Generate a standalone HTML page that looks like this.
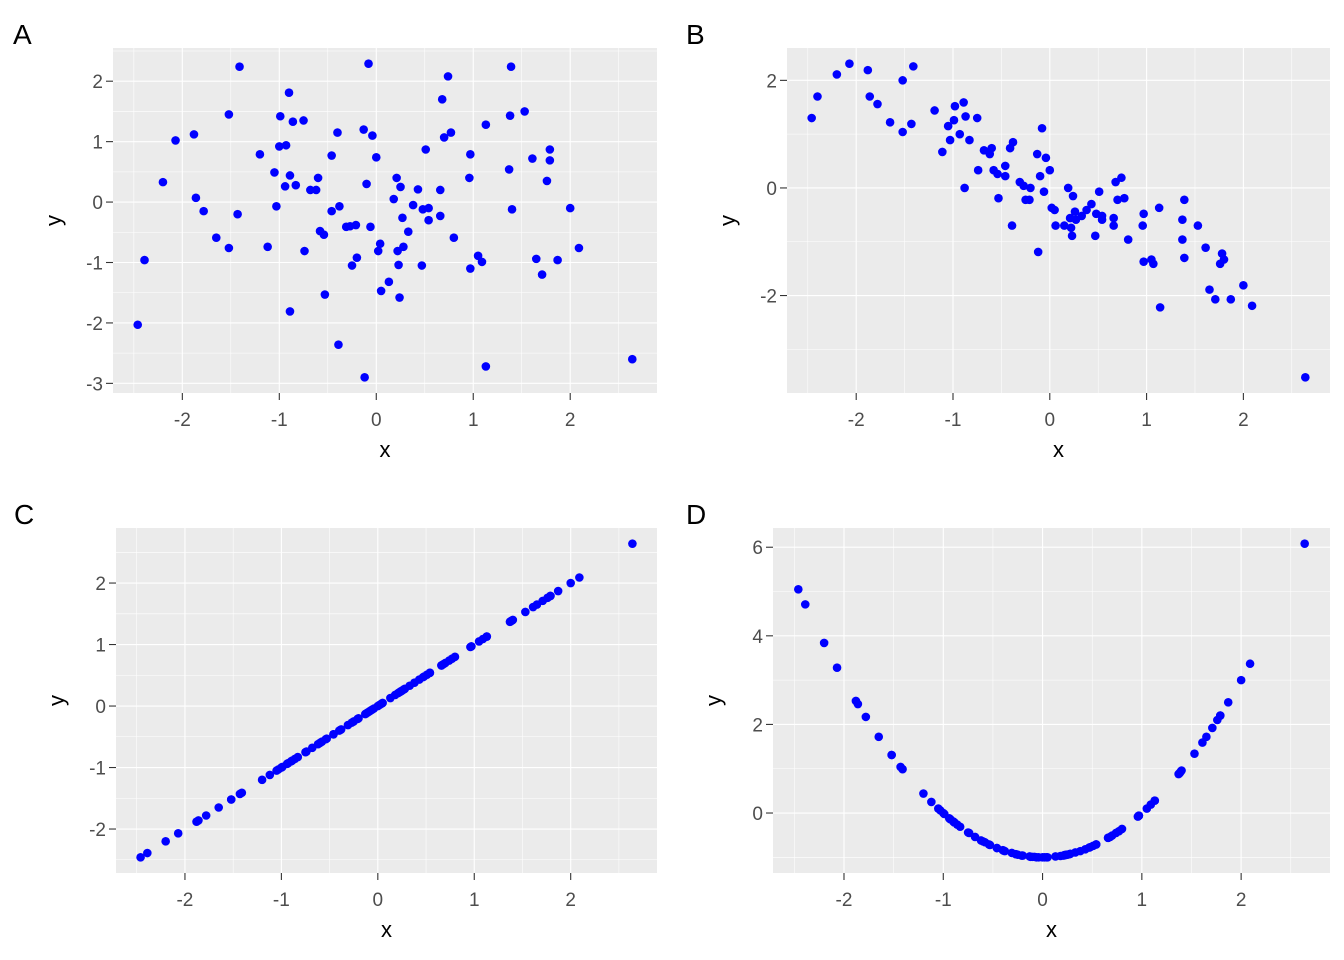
<!DOCTYPE html>
<html><head><meta charset="utf-8"><style>
body{margin:0;background:#fff;}
svg{display:block;font-family:"Liberation Sans",Arial,sans-serif;}
</style></head><body>
<svg id="chart" width="1344" height="960" viewBox="0 0 1344 960" xmlns="http://www.w3.org/2000/svg"></svg>
<script>
const xVals=[-2.46,-2.39,-2.20,-2.07,-1.88,-1.86,-1.78,-1.65,-1.52,-1.52,-1.43,-1.41,-1.20,-1.12,-1.05,-1.03,-0.99,-1.00,-0.94,-0.93,-0.90,-0.89,-0.89,-0.86,-0.83,-0.75,-0.74,-0.68,-0.62,-0.60,-0.58,-0.54,-0.53,-0.46,-0.46,-0.40,-0.39,-0.38,-0.31,-0.27,-0.25,-0.21,-0.20,-0.13,-0.12,-0.10,-0.08,-0.06,-0.04,0,0.02,0.04,0.05,0.13,0.18,0.21,0.22,0.23,0.24,0.25,0.27,0.28,0.33,0.38,0.43,0.47,0.48,0.51,0.54,0.54,0.66,0.66,0.68,0.70,0.74,0.77,0.80,0.96,0.97,0.97,1.05,1.09,1.13,1.13,1.37,1.38,1.39,1.40,1.53,1.61,1.65,1.71,1.76,1.79,1.79,1.87,2.00,2.09,2.64];
const yA=[-2.03,-0.96,0.33,1.02,1.12,0.07,-0.15,-0.59,1.45,-0.76,-0.20,2.24,0.79,-0.74,0.49,-0.07,1.42,0.92,0.26,0.94,1.81,0.44,-1.81,1.33,0.28,1.35,-0.81,0.20,0.20,0.40,-0.48,-0.54,-1.53,0.77,-0.15,1.15,-2.36,-0.07,-0.41,-0.40,-1.05,-0.38,-0.92,1.20,-2.90,0.30,2.29,-0.41,1.10,0.74,-0.81,-0.69,-1.47,-1.32,0.05,0.40,-0.81,-1.04,-1.58,0.25,-0.26,-0.74,-0.49,-0.05,0.21,-1.05,-0.12,0.87,-0.30,-0.10,0.20,-0.23,1.70,1.07,2.08,1.15,-0.59,0.40,0.79,-1.10,-0.89,-0.99,1.28,-2.72,0.54,1.43,2.24,-0.12,1.50,0.72,-0.94,-1.20,0.35,0.87,0.69,-0.96,-0.10,-0.76,-2.60];
const xB=[-2.46,-2.40,-2.20,-2.07,-1.88,-1.86,-1.78,-1.65,-1.52,-1.52,-1.43,-1.41,-1.19,-1.11,-1.05,-1.03,-0.98,-0.99,-0.93,-0.89,-0.88,-0.87,-0.83,-0.75,-0.74,-0.68,-0.62,-0.60,-0.58,-0.54,-0.53,-0.46,-0.46,-0.41,-0.39,-0.38,-0.31,-0.27,-0.25,-0.21,-0.20,-0.13,-0.12,-0.10,-0.08,-0.06,-0.04,0,0.02,0.05,0.06,0.15,0.19,0.21,0.22,0.23,0.24,0.26,0.27,0.33,0.38,0.43,0.47,0.48,0.51,0.54,0.54,0.66,0.66,0.68,0.70,0.74,0.77,0.81,0.96,0.97,0.97,1.05,1.07,1.13,1.14,1.37,1.37,1.39,1.39,1.53,1.61,1.65,1.71,1.76,1.78,1.80,1.87,2.00,2.09,2.64];
const yB=[1.30,1.70,2.11,2.31,2.19,1.70,1.56,1.22,2.00,1.04,1.19,2.26,1.44,0.67,1.15,0.89,1.52,1.26,1.00,1.59,0,1.33,0.89,1.30,0.33,0.70,0.63,0.74,0.33,0.26,-0.19,0.41,0.22,0.74,-0.70,0.85,0.11,0.04,-0.22,-0.22,0,0.63,-1.19,0.22,1.11,-0.07,0.56,0.33,-0.37,-0.41,-0.70,-0.70,0,-0.56,-0.74,-0.89,-0.15,-0.44,-0.59,-0.52,-0.41,-0.30,-0.89,-0.48,-0.07,-0.59,-0.52,-0.56,-0.70,0.11,-0.22,0.19,-0.19,-0.96,-0.70,-0.48,-1.37,-1.33,-1.41,-0.37,-2.22,-0.96,-0.59,-0.22,-1.30,-0.70,-1.11,-1.89,-2.07,-1.41,-1.22,-1.33,-2.07,-1.81,-2.19,-3.52];
const yC=[-2.46,-2.39,-2.20,-2.07,-1.88,-1.86,-1.78,-1.65,-1.52,-1.52,-1.43,-1.41,-1.20,-1.12,-1.05,-1.03,-0.99,-1.00,-0.94,-0.93,-0.90,-0.89,-0.89,-0.86,-0.83,-0.75,-0.74,-0.68,-0.62,-0.60,-0.58,-0.54,-0.53,-0.46,-0.46,-0.40,-0.39,-0.38,-0.31,-0.27,-0.25,-0.21,-0.20,-0.13,-0.12,-0.10,-0.08,-0.06,-0.04,0,0.02,0.04,0.05,0.13,0.18,0.21,0.22,0.23,0.24,0.25,0.27,0.28,0.33,0.38,0.43,0.47,0.48,0.51,0.54,0.54,0.66,0.66,0.68,0.70,0.74,0.77,0.80,0.96,0.97,0.97,1.05,1.09,1.13,1.13,1.37,1.38,1.39,1.40,1.53,1.61,1.65,1.71,1.76,1.79,1.79,1.87,2.00,2.09,2.64];
const yD=[5.05,4.71,3.84,3.28,2.53,2.46,2.17,1.72,1.31,1.31,1.04,0.99,0.44,0.25,0.10,0.06,-0.02,0,-0.12,-0.14,-0.19,-0.21,-0.21,-0.26,-0.31,-0.44,-0.45,-0.54,-0.62,-0.64,-0.66,-0.71,-0.72,-0.79,-0.79,-0.84,-0.85,-0.86,-0.90,-0.93,-0.94,-0.96,-0.96,-0.98,-0.99,-0.99,-0.99,-1.00,-1.00,-1,-1,-1,-1,-0.98,-0.97,-0.96,-0.95,-0.95,-0.94,-0.94,-0.93,-0.92,-0.89,-0.86,-0.82,-0.78,-0.77,-0.74,-0.71,-0.71,-0.56,-0.56,-0.54,-0.51,-0.45,-0.41,-0.36,-0.08,-0.06,-0.06,0.10,0.19,0.28,0.28,0.88,0.90,0.93,0.96,1.34,1.59,1.72,1.92,2.10,2.20,2.20,2.50,3.00,3.37,6.08];
const xTicks=[-2,-1,0,1,2];
const yTicksA=[-3,-2,-1,0,1,2];
const yTicksB=[-2,0,2];
const yTicksC=[-2,-1,0,1,2];
const yTicksD=[0,2,4,6];
const tags=["A","B","C","D"];

const NS="http://www.w3.org/2000/svg";
const svg=document.getElementById('chart');
function mk(tag,attrs,parent,text){const e=document.createElementNS(NS,tag);for(const k in attrs)e.setAttribute(k,attrs[k]);if(text!==undefined)e.textContent=text;(parent||svg).appendChild(e);return e;}
function ext(a){const mn=Math.min(...a),mx=Math.max(...a),d=(mx-mn)*0.05;return [mn-d,mx+d];}

function panel(id,box,xs,ys,yTicks,tag){
  const [L,R,T,B]=box;
  const g=mk('g',{});
  
  
  const xl=ext(xs),yl=ext(ys);
  const sx=v=>L+(v-xl[0])/(xl[1]-xl[0])*(R-L);
  const sy=v=>B-(v-yl[0])/(yl[1]-yl[0])*(B-T);
  const bg=mk('rect',{x:L,y:T,width:R-L,height:B-T,fill:'#EBEBEB'},g);
  
  
  const ystep=yTicks[1]-yTicks[0];
  for(let i=-1;i<xTicks.length;i++){const v=(i<0?xTicks[0]-0.5:xTicks[i]+0.5);const p=sx(v);if(p>L&&p<R)mk('line',{x1:p,x2:p,y1:T,y2:B,stroke:'#fff','stroke-width':0.55},g);}
  for(let i=-1;i<yTicks.length;i++){const v=(i<0?yTicks[0]-ystep/2:yTicks[i]+ystep/2);const p=sy(v);if(p>T&&p<B)mk('line',{x1:L,x2:R,y1:p,y2:p,stroke:'#fff','stroke-width':0.55},g);}
  xTicks.forEach(v=>{const p=sx(v);
    mk('line',{x1:p,x2:p,y1:T,y2:B,stroke:'#fff','stroke-width':1.1},g);
    mk('line',{x1:p,x2:p,y1:B,y2:B+7,stroke:'#333','stroke-width':1.1},g);
    const t=mk('text',{x:p,y:B+33,'text-anchor':'middle','font-size':19,fill:'#4D4D4D'},g,String(v));
    
    
  });
  yTicks.forEach(v=>{const p=sy(v);
    mk('line',{x1:L,x2:R,y1:p,y2:p,stroke:'#fff','stroke-width':1.1},g);
    mk('line',{x1:L-7,x2:L,y1:p,y2:p,stroke:'#333','stroke-width':1.1},g);
    const t=mk('text',{x:L-10,y:p+7,'text-anchor':'end','font-size':19,fill:'#4D4D4D'},g,String(v));
    
    
  });
  xs.forEach((x,i)=>{const c=mk('circle',{cx:sx(x),cy:sy(ys[i]),r:4.3,fill:'#0000FF'},g);
    
    
  });
  const xt=mk('text',{x:(L+R)/2,y:B+64,'text-anchor':'middle','font-size':22,fill:'#000'},g,'x');
  
  
  const yx=L-52,yy=(T+B)/2;
  const yt=mk('text',{x:yx,y:yy,'text-anchor':'middle','font-size':22,fill:'#000',transform:`rotate(-90 ${yx} ${yy})`},g,'y');
  
  
  const tg=mk('text',{x:box[4],y:T-4,'font-size':28,fill:'#000'},g,tag);
  
  
}
panel('a',[113,657,48,393,13],xVals,yA,yTicksA,tags[0]);
panel('b',[787,1330,48,393,686],xB,yB,yTicksB,tags[1]);
panel('c',[116,657,528,873,14],xVals,yC,yTicksC,tags[2]);
panel('d',[773,1330,528,873,686],xVals,yD,yTicksD,tags[3]);
</script>
</body></html>
